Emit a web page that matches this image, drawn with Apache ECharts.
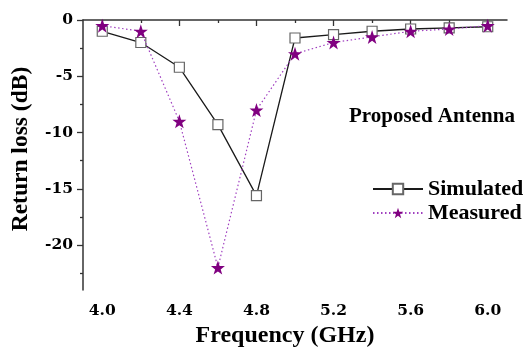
<!DOCTYPE html>
<html>
<head>
<meta charset="utf-8">
<script src="https://cdn.jsdelivr.net/npm/echarts@6/dist/echarts.min.js"></script>
<style>
  html, body { margin: 0; padding: 0; background: #fff; }
  #chart { width: 530px; height: 353px; }
</style>
</head>
<body>
<div id="chart"></div>
<script>
// frequency points (GHz)
const freqs = [4.0, 4.2, 4.4, 4.6, 4.8, 5.0, 5.2, 5.4, 5.6, 5.8, 6.0];
// return loss (dB)
const simulated = [-1.0, -2.0, -4.2, -9.3, -15.6, -1.6, -1.3, -1.0, -0.8, -0.7, -0.6];
const measured = [-0.5, -1.0, -9.0, -22.0, -8.0, -3.0, -2.0, -1.5, -1.0, -0.8, -0.5];

const xMajor = [4.0, 4.4, 4.8, 5.2, 5.6, 6.0];
const xMinor = [4.2, 4.6, 5.0, 5.4, 5.8];
const yMajor = [0, -5, -10, -15, -20];
const yMinor = [-2.5, -7.5, -12.5, -17.5, -22.5];

const serif = '"Liberation Serif", "DejaVu Serif", serif';
const wideSerif = '"DejaVu Serif", serif';
const axisColor = '#333';

const chart = echarts.init(document.getElementById('chart'));

const baseX = {
  type: 'value', min: 3.9, max: 6.1,
  splitLine: { show: false }
};
const baseY = {
  type: 'value', min: -24, max: 0,
  splitLine: { show: false }
};

chart.setOption({
  animation: false,
  backgroundColor: '#fff',
  grid: { left: 83, right: 23, top: 20, bottom: 58 },
  xAxis: [
    Object.assign({}, baseX, {
      name: 'Frequency (GHz)',
      nameLocation: 'middle',
      nameGap: 30,
      nameTextStyle: {
        fontFamily: serif, fontWeight: 'bold', fontSize: 24, color: '#000',
        padding: [0, 20, 0, 0]
      },
      axisLine: { lineStyle: { color: axisColor, width: 1.5 } },
      axisTick: { customValues: xMajor, length: 6, lineStyle: { color: axisColor, width: 1.3 } },
      axisLabel: {
        customValues: xMajor,
        formatter: v => v.toFixed(1),
        fontFamily: wideSerif, fontWeight: 'bold', fontSize: 15.5, color: '#000', margin: 13
      }
    }),
    Object.assign({}, baseX, {
      position: 'bottom',
      axisLine: { show: false },
      axisTick: { customValues: xMinor, length: 3, lineStyle: { color: axisColor, width: 1.3 } },
      axisLabel: { show: false }
    })
  ],
  yAxis: [
    Object.assign({}, baseY, {
      name: 'Return loss (dB)',
      nameLocation: 'middle',
      nameGap: 50,
      nameTextStyle: {
        fontFamily: serif, fontWeight: 'bold', fontSize: 23.5, color: '#000',
        padding: [0, 0, 0, 12]
      },
      axisLine: { show: true, lineStyle: { color: axisColor, width: 1.5 } },
      axisTick: { show: true, customValues: yMajor, length: 6, lineStyle: { color: axisColor, width: 1.3 } },
      axisLabel: {
        customValues: yMajor,
        fontFamily: wideSerif, fontWeight: 'bold', fontSize: 15.5, color: '#000', margin: 10
      }
    }),
    Object.assign({}, baseY, {
      position: 'left',
      axisLine: { show: false },
      axisTick: { show: true, customValues: yMinor, length: 3, lineStyle: { color: axisColor, width: 1.3 } },
      axisLabel: { show: false }
    })
  ],
  legend: {
    left: 367,
    top: 173,
    orient: 'vertical',
    itemWidth: 50,
    itemHeight: 13,
    itemGap: 2,
    textStyle: { fontFamily: serif, fontWeight: 'bold', fontSize: 22, color: '#000' },
    data: ['Simulated', 'Measured']
  },
  graphic: [{
    type: 'text',
    left: 349,
    top: 106,
    style: {
      text: 'Proposed Antenna',
      fontFamily: serif, fontWeight: 'bold', fontSize: 21, fill: '#000'
    }
  }],
  series: [
    {
      name: 'Simulated',
      type: 'line',
      data: freqs.map((f, i) => [f, simulated[i]]),
      symbol: 'rect',
      symbolSize: 10,
      lineStyle: { color: '#1a1a1a', width: 1.3 },
      itemStyle: { color: '#fff', borderColor: '#666', borderWidth: 1.2 },
      z: 2
    },
    {
      name: 'Measured',
      type: 'line',
      data: freqs.map((f, i) => [f, measured[i]]),
      symbol: 'path://M50,0 L61.8,35.1 L97.6,35.1 L68.8,57.3 L79.4,91 L50,70.5 L20.6,91 L31.2,57.3 L2.4,35.1 L38.2,35.1 Z',
      symbolSize: 14,
      lineStyle: { color: '#a040c0', width: 1.2, type: [1.5, 2.5] },
      itemStyle: { color: '#800080', borderWidth: 0 },
      z: 3
    }
  ]
});
</script>
</body>
</html>
